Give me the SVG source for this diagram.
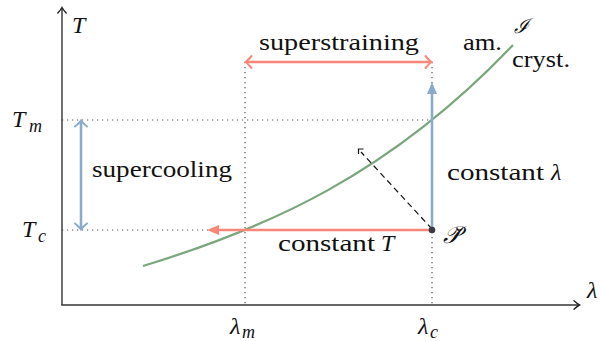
<svg xmlns="http://www.w3.org/2000/svg" width="601" height="341" viewBox="0 0 601 341">
<style>
.t{font-size:24px;fill:#111}
.it{font-style:italic;font-size:24px;fill:#111}
.sub{font-size:18px;font-style:italic;fill:#111}
.dot{stroke:#555;stroke-width:1.2;stroke-dasharray:1.2 3.8;fill:none}
.red{stroke:#f8877a;stroke-width:2.6;fill:none}
.blue{stroke:#8aabcb;stroke-width:2.6;fill:none}
.axis{stroke:#333;stroke-width:1.4;fill:none}
</style>
<defs>
<marker id="ax" markerUnits="userSpaceOnUse" markerWidth="14" markerHeight="14" refX="0" refY="0" viewBox="-8 -7 14 14" orient="auto" overflow="visible">
<path d="M-5,-4.2 Q-1.5,-1 0.5,0 Q-1.5,1 -5,4.2" stroke="#222" stroke-width="1.4" fill="none" stroke-linecap="round"/>
</marker>
<marker id="vr" markerUnits="userSpaceOnUse" markerWidth="16" markerHeight="16" refX="0" refY="0" viewBox="-8 -8 16 16" orient="auto-start-reverse" overflow="visible">
<path d="M-5.5,-6 Q-1.5,-1.2 0.5,0 Q-1.5,1.2 -5.5,6" stroke="#f8877a" stroke-width="2" fill="none" stroke-linecap="round"/>
</marker>
<marker id="vb" markerUnits="userSpaceOnUse" markerWidth="16" markerHeight="16" refX="0" refY="0" viewBox="-8 -8 16 16" orient="auto-start-reverse" overflow="visible">
<path d="M-5.5,-6 Q-1.5,-1.2 0.5,0 Q-1.5,1.2 -5.5,6" stroke="#8aabcb" stroke-width="2" fill="none" stroke-linecap="round"/>
</marker>
<marker id="fr" markerUnits="userSpaceOnUse" markerWidth="20" markerHeight="20" refX="0" refY="0" viewBox="-10 -10 20 20" orient="auto" overflow="visible">
<path d="M-3,-5 L9,0 L-3,5 Z" fill="#f8877a"/>
</marker>
<marker id="fb" markerUnits="userSpaceOnUse" markerWidth="20" markerHeight="20" refX="0" refY="0" viewBox="-10 -10 20 20" orient="auto" overflow="visible">
<path d="M-3,-5 L9,0 L-3,5 Z" fill="#8aabcb"/>
</marker>
</defs>

<g id="guides">
<line class="dot" x1="62" y1="120" x2="432" y2="120"/>
<line class="dot" x1="62" y1="230" x2="432" y2="230"/>
<line class="dot" x1="245" y1="62" x2="245" y2="305"/>
<line class="dot" x1="432" y1="62" x2="432" y2="305"/>
</g>

<g id="axes">
<line class="axis" x1="62" y1="305" x2="62" y2="8" marker-end="url(#ax)"/>
<line class="axis" x1="61.3" y1="305" x2="579" y2="305" marker-end="url(#ax)"/>
<text class="it" font-family="'Liberation Serif', serif" x="72" y="33">T</text>
<text class="it" font-family="'Liberation Serif', serif" x="587" y="298">λ</text>
<text class="it" font-family="'Liberation Serif', serif" x="12" y="127">T</text><text class="sub" font-family="'Liberation Serif', serif" x="29" y="132">m</text>
<text class="it" font-family="'Liberation Serif', serif" x="22" y="237">T</text><text class="sub" font-family="'Liberation Serif', serif" x="38" y="242">c</text>
<text class="it" font-family="'Liberation Serif', serif" x="230" y="334">λ</text><text class="sub" font-family="'Liberation Serif', serif" x="242" y="338">m</text>
<text class="it" font-family="'Liberation Serif', serif" x="418" y="334">λ</text><text class="sub" font-family="'Liberation Serif', serif" x="430" y="338">c</text>
</g>

<g id="curve">
<path d="M143,266 C266.3,228.4 389.7,174.9 513,45" stroke="#7aa67c" stroke-width="2.2" fill="none"/>
<text class="it" font-family="'DejaVu Serif', serif" x="514" y="33" style="font-size:20px">ℐ</text>
<text class="t" font-family="'Liberation Serif', serif" x="463" y="50" textLength="39" lengthAdjust="spacingAndGlyphs">am.</text>
<text class="t" font-family="'Liberation Serif', serif" x="512" y="67" textLength="58" lengthAdjust="spacingAndGlyphs">cryst.</text>
</g>

<g id="connectors">
<line class="red" x1="246" y1="62" x2="431" y2="62" marker-start="url(#vr)" marker-end="url(#vr)"/>
<line class="blue" x1="81" y1="121" x2="81" y2="229" marker-start="url(#vb)" marker-end="url(#vb)"/>
<line class="blue" x1="432" y1="230" x2="432" y2="91" marker-end="url(#fb)"/>
<line class="red" x1="432" y1="230" x2="216" y2="230" marker-end="url(#fr)"/>
<line x1="432" y1="229" x2="361" y2="152" stroke="#111" stroke-width="1.2" stroke-dasharray="6 4"/>
<polyline points="358.5,154 358.5,149 363.5,149" stroke="#111" stroke-width="1.2" fill="none"/>
</g>

<g id="labels">
<text class="t" font-family="'Liberation Serif', serif" x="259" y="50" textLength="160" lengthAdjust="spacingAndGlyphs">superstraining</text>
<text class="t" font-family="'Liberation Serif', serif" x="92" y="177" textLength="140" lengthAdjust="spacingAndGlyphs">supercooling</text>
<text class="t" font-family="'Liberation Serif', serif" x="447" y="180" textLength="97" lengthAdjust="spacingAndGlyphs">constant</text><text class="it" font-family="'Liberation Serif', serif" x="551" y="180">λ</text>
<text class="t" font-family="'Liberation Serif', serif" x="278" y="251" textLength="97" lengthAdjust="spacingAndGlyphs">constant</text><text class="it" font-family="'Liberation Serif', serif" x="381" y="251">T</text>
</g>

<g id="point">
<circle cx="432" cy="230" r="3.3" fill="#3a3a45"/>
<text class="it" font-family="'DejaVu Serif', serif" x="443" y="243">𝒫̆</text>
</g>
</svg>
